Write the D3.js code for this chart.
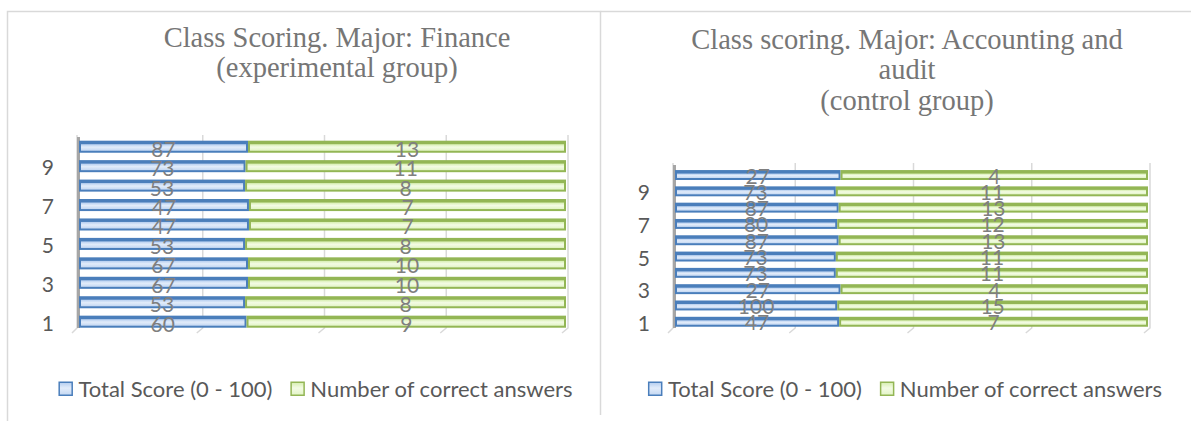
<!DOCTYPE html>
<html>
<head>
<meta charset="utf-8">
<script src="https://cdn.jsdelivr.net/npm/d3@7"></script>
<style>
  body { margin: 0; background: #fff; }
  svg { display: block; }
</style>
</head>
<body>
<svg width="1191" height="421"></svg>
<script>
const categories = [1, 2, 3, 4, 5, 6, 7, 8, 9, 10]
const tickLabels = [1, 3, 5, 7, 9]
const shareTicks = [0, 25, 50, 75, 100]
const seriesNames = ['Total Score (0 - 100)', 'Number of correct answers']

// Finance, experimental group (rows 1..10)
const financeScore = [60, 53, 67, 67, 53, 47, 47, 53, 73, 87]
const financeCorrect = [9, 8, 10, 10, 8, 7, 7, 8, 11, 13]
// share of the bar taken by the blue segment (%)
const financeScoreShare = [34.4, 34.1, 34.7, 34.7, 34.1, 34.9, 34.9, 34.1, 34.2, 34.7]

// Accounting and audit, control group (rows 1..10)
const auditScore = [47, 100, 27, 73, 73, 87, 80, 87, 73, 27]
const auditCorrect = [7, 15, 4, 11, 11, 13, 12, 13, 11, 4]
const auditScoreShare = [34.7, 34.3, 35.0, 34.0, 34.0, 34.6, 34.3, 34.6, 34.0, 35.0]

const svg = d3.select('svg')

const defs = svg.append('defs')
const addGrad = (id, stops) => {
  const g = defs.append('linearGradient')
    .attr('id', id)
    .attr('x1', 0).attr('y1', 0).attr('x2', 0).attr('y2', 1)
  stops.forEach(([o, c]) => g.append('stop').attr('offset', o).attr('stop-color', c))
}
addGrad('blueFill', [[0, '#b4cdef'], [0.45, '#e2ecfa'], [1, '#c3d7f2']])
addGrad('greenFill', [[0, '#d6eeb0'], [0.45, '#f3fbe4'], [1, '#e2f4c6']])

const colors = {
  blue: { edge: '#4a7ebb', fill: 'url(#blueFill)' },
  green: { edge: '#93b655', fill: 'url(#greenFill)' },
}

// panel frames
svg.append('path')
  .attr('d', 'M7.5,430 V11.5 H600.5 V415')
  .attr('fill', 'none').attr('stroke', '#d9d9d9').attr('stroke-width', 1.5)
svg.append('path')
  .attr('d', 'M600.5,11.5 H1195')
  .attr('fill', 'none').attr('stroke', '#d9d9d9').attr('stroke-width', 1.5)

const drawSegment = (g, x0, x1, y, h, c) => {
  g.append('rect')
    .attr('x', x0).attr('y', y).attr('width', x1 - x0).attr('height', h)
    .attr('fill', c.edge)
  g.append('rect')
    .attr('x', x0 + 2).attr('y', y + 3.5).attr('width', Math.max(0, x1 - x0 - 4)).attr('height', h - 5.5)
    .attr('fill', c.fill)
}

const drawPanel = (p) => {
  const g = svg.append('g')

  const x = d3.scaleLinear().domain([0, 100]).range(p.xRange)
  const y = d3.scaleBand()
    .domain(categories.slice().reverse())
    .range(p.yRange)
    .padding(p.padding)

  // title
  const title = g.append('text')
    .attr('x', p.titleX)
    .attr('text-anchor', 'middle')
    .attr('font-family', '"Liberation Serif", "Times New Roman", serif')
    .attr('font-size', 28.5)
    .attr('fill', '#767676')
  p.title.forEach((line, i) => {
    title.append('tspan').attr('x', p.titleX).attr('y', p.titleY + i * p.titleStep).text(line)
  })

  // side wall
  g.append('path')
    .attr('d', `M${p.xRange[0] - 2},${p.gridTop} V${p.gridBottom} l-5,5`)
    .attr('fill', 'none').attr('stroke', '#d9d9d9').attr('stroke-width', 1.5)
  g.append('rect')
    .attr('x', p.xRange[0] - 2).attr('y', p.gridTop + 2)
    .attr('width', 3).attr('height', p.gridBottom - p.gridTop - 2)
    .attr('fill', '#a6a6a6')

  // gridlines with the floor slash
  g.selectAll('.grid')
    .data(shareTicks.slice(1))
    .join('path')
    .attr('class', 'grid')
    .attr('d', d => {
      const gx = x(d) + 2
      return `M${gx},${p.gridTop} V${p.gridBottom} l-6,5`
    })
    .attr('fill', 'none').attr('stroke', '#d9d9d9').attr('stroke-width', 1.5)

  const rows = categories.map((c, i) => ({
    cat: c,
    score: p.score[i],
    correct: p.correct[i],
    share: p.share[i],
  }))

  const bh = y.bandwidth()
  rows.forEach((r) => {
    const by = y(r.cat)
    drawSegment(g, x(0), x(r.share), by, bh, colors.blue)
    drawSegment(g, x(r.share), x(100), by, bh, colors.green)
  })

  // data labels
  const lab = g.append('g')
    .attr('font-family', 'Lato, "Open Sans", sans-serif')
    .attr('font-size', 21)
    .attr('fill', '#7f7f7f')
    .attr('text-anchor', 'middle')
  rows.forEach((r) => {
    const cy = y(r.cat) + bh / 2 + p.labelDy
    lab.append('text')
      .attr('x', (x(0) + x(r.share)) / 2).attr('y', cy)
      .text(r.score)
    lab.append('text')
      .attr('x', (x(r.share) + x(100)) / 2).attr('y', cy)
      .text(r.correct)
  })

  // category axis
  g.append('g')
    .selectAll('text')
    .data(tickLabels)
    .join('text')
    .attr('x', p.catX)
    .attr('y', d => y(d) + bh / 2 + 9)
    .attr('text-anchor', 'end')
    .attr('font-family', 'Lato, "Open Sans", sans-serif')
    .attr('font-size', 21)
    .attr('fill', '#595959')
    .text(d => d)

  // legend
  const leg = g.append('g')
    .attr('font-family', 'Lato, "Open Sans", sans-serif')
    .attr('font-size', 22)
    .attr('fill', '#595959')
  let cx = 0
  const items = [colors.blue, colors.green]
  items.forEach((c, i) => {
    leg.append('rect')
      .attr('x', cx + 0.75).attr('y', -6.75)
      .attr('width', 13).attr('height', 13)
      .attr('fill', c.fill).attr('stroke', c.edge).attr('stroke-width', 1.5)
    const t = leg.append('text')
      .attr('x', cx + 20).attr('y', 7.5)
      .text(seriesNames[i])
    cx += 20 + t.node().getComputedTextLength() + 18
  })
  const legW = cx - 18
  leg.attr('transform', `translate(${p.legendCenter - legW / 2},${p.legendY})`)
}

drawPanel({
  title: ['Class Scoring. Major: Finance', '(experimental group)'],
  score: financeScore,
  correct: financeCorrect,
  share: financeScoreShare,
  xRange: [79, 566],
  yRange: [133.3, 335.1],
  padding: 0.38,
  gridTop: 135,
  gridBottom: 328,
  titleX: 337,
  titleY: 47,
  titleStep: 29.5,
  labelDy: 10,
  catX: 54,
  legendCenter: 315.5,
  legendY: 389,
})

drawPanel({
  title: ['Class scoring. Major: Accounting and', 'audit', '(control group)'],
  score: auditScore,
  correct: auditCorrect,
  share: auditScoreShare,
  xRange: [675, 1148],
  yRange: [163.7, 333.1],
  padding: 0.39,
  gridTop: 163,
  gridBottom: 328,
  titleX: 907,
  titleY: 48.5,
  titleStep: 30.5,
  labelDy: 8.5,
  catX: 650,
  legendCenter: 905,
  legendY: 389,
})
</script>
</body>
</html>
